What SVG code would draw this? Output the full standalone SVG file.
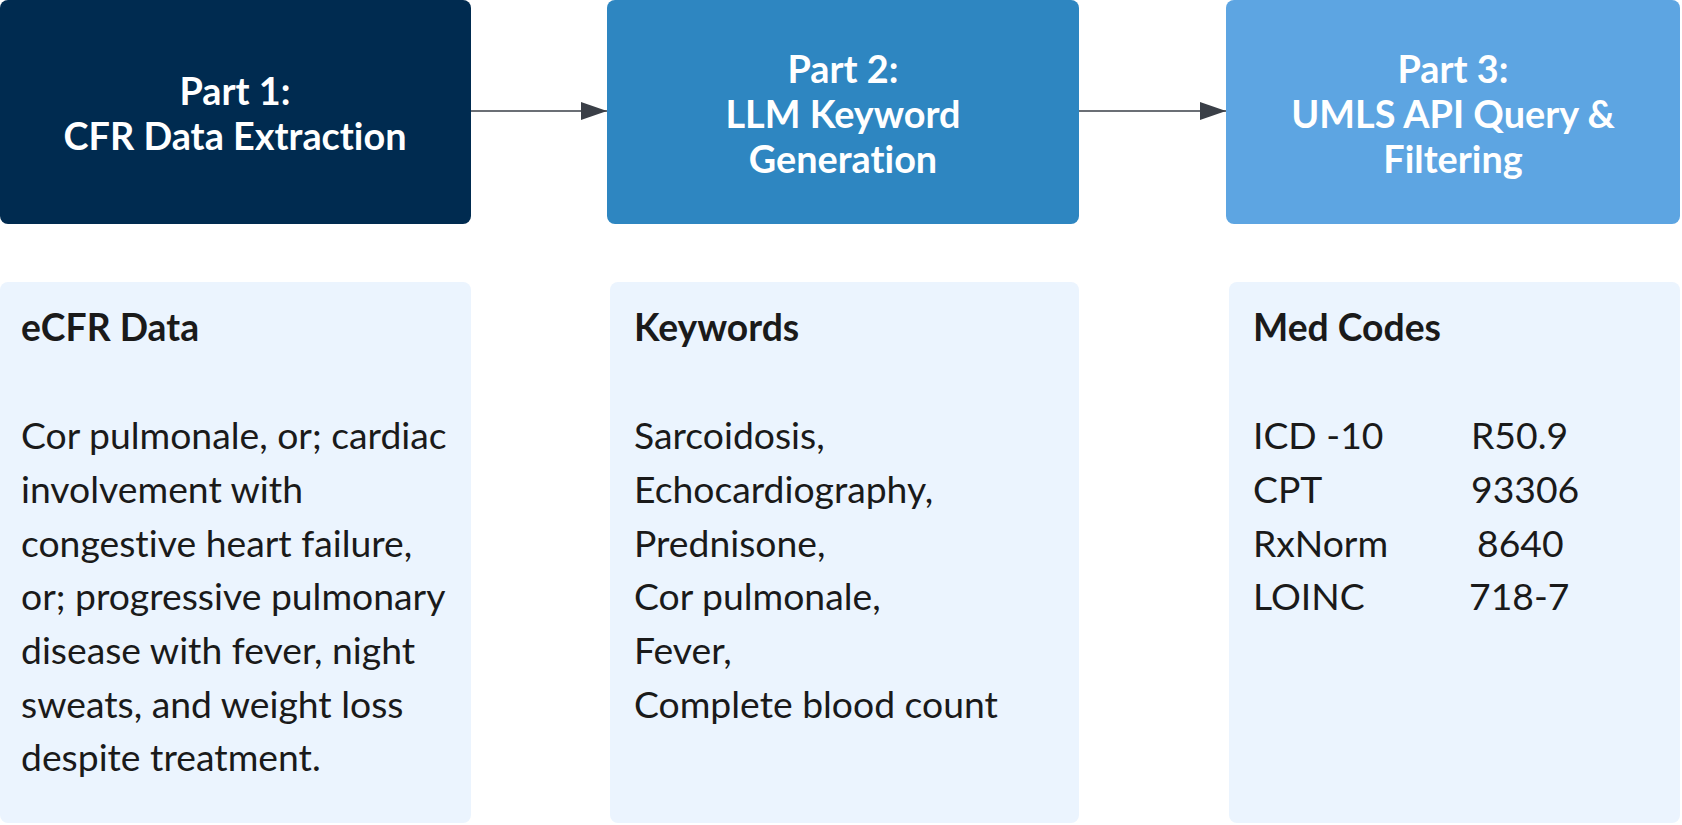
<svg xmlns="http://www.w3.org/2000/svg" width="1682" height="825" viewBox="0 0 1682 825">
  <style>
    text { font-variant-ligatures: none; font-family: Lato, "Liberation Sans", sans-serif; }
    .stage { font-weight: 700; font-size: 37.8px; fill: #ffffff; text-anchor: middle; }
    .panel { fill: #ebf4fe; }
    .ptitle { font-weight: 700; font-size: 37.3px; fill: #1a1a1a; }
    .pbody { font-weight: 400; font-size: 37.3px; fill: #1a1a1a; }
    .link { stroke: #3a3f47; stroke-width: 1.5; fill: none; }
  </style>
  <defs>
    <marker id="arrow" markerWidth="26" markerHeight="18" refX="26" refY="9" orient="auto" markerUnits="userSpaceOnUse">
      <path d="M0,0 L26,9 L0,18 Z" fill="#3a3f47"/>
    </marker>
  </defs>
  <rect width="1682" height="825" fill="#ffffff"/>

  <!-- pipeline stages -->
  <g id="part1">
    <rect x="0" y="0" width="471" height="224" rx="8" fill="#002b50"/>
    <text class="stage" x="235" y="105">Part 1:</text>
    <text class="stage" x="235" y="150">CFR Data Extraction</text>
  </g>
  <g id="part2">
    <rect x="607" y="0" width="472" height="224" rx="8" fill="#2e86c1"/>
    <text class="stage" x="843" y="83">Part 2:</text>
    <text class="stage" x="843" y="128">LLM Keyword</text>
    <text class="stage" x="843" y="173">Generation</text>
  </g>
  <g id="part3">
    <rect x="1226" y="0" width="454" height="224" rx="8" fill="#5da5e2"/>
    <text class="stage" x="1453" y="83">Part 3:</text>
    <text class="stage" x="1453" y="128">UMLS API Query &amp;</text>
    <text class="stage" x="1453" y="173">Filtering</text>
  </g>

  <!-- connectors between stages -->
  <g id="connectors">
    <line class="link" x1="471" y1="111" x2="607" y2="111" marker-end="url(#arrow)"/>
    <line class="link" x1="1079" y1="111" x2="1226" y2="111" marker-end="url(#arrow)"/>
  </g>

  <!-- output panels -->
  <g id="ecfr-data">
    <rect class="panel" x="0" y="282" width="471" height="541" rx="8"/>
    <text class="ptitle" x="21" y="341">eCFR Data</text>
    <text class="pbody" x="21" y="449">Cor pulmonale, or; cardiac</text>
    <text class="pbody" x="21" y="503">involvement with</text>
    <text class="pbody" x="21" y="557">congestive heart failure,</text>
    <text class="pbody" x="21" y="610">or; progressive pulmonary</text>
    <text class="pbody" x="21" y="664">disease with fever, night</text>
    <text class="pbody" x="21" y="718">sweats, and weight loss</text>
    <text class="pbody" x="21" y="771">despite treatment.</text>
  </g>
  <g id="keywords">
    <rect class="panel" x="610" y="282" width="469" height="541" rx="8"/>
    <text class="ptitle" x="634" y="341" fill="#000">Keywords</text>
    <text class="pbody" x="634" y="449" fill="#000">Sarcoidosis,</text>
    <text class="pbody" x="634" y="503" fill="#000">Echocardiography,</text>
    <text class="pbody" x="634" y="557" fill="#000">Prednisone,</text>
    <text class="pbody" x="634" y="610" fill="#000">Cor pulmonale,</text>
    <text class="pbody" x="634" y="664" fill="#000">Fever,</text>
    <text class="pbody" x="634" y="718" fill="#000">Complete blood count</text>
  </g>
  <g id="med-codes">
    <rect class="panel" x="1229" y="282" width="451" height="541" rx="8"/>
    <text class="ptitle" x="1253" y="341" fill="#000">Med Codes</text>
    <text class="pbody" x="1253" y="449" fill="#000">ICD -10</text>
    <text class="pbody" x="1471" y="449" fill="#000">R50.9</text>
    <text class="pbody" x="1253" y="503" fill="#000">CPT</text>
    <text class="pbody" x="1471" y="503" fill="#000">93306</text>
    <text class="pbody" x="1253" y="557" fill="#000">RxNorm</text>
    <text class="pbody" x="1477" y="557" fill="#000">8640</text>
    <text class="pbody" x="1253" y="610" fill="#000">LOINC</text>
    <text class="pbody" x="1469" y="610" fill="#000">718-7</text>
  </g>
</svg>
